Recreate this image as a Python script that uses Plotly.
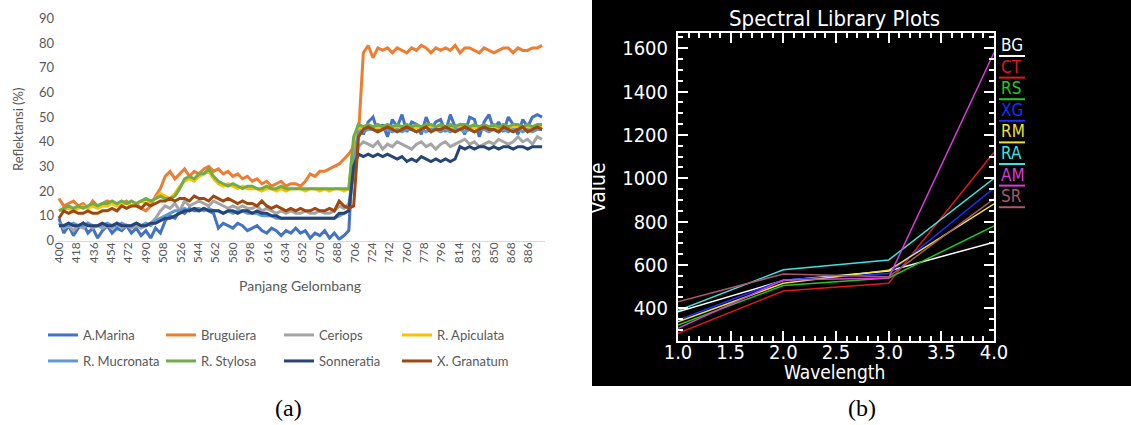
import plotly.graph_objects as go

# ---------------- Left panel data (a) ----------------
wavelength = list(range(400, 901, 5))

a_marina = [9, 3, 6, 2, 5, 7, 3, 5, 1, 4,
            6, 3, 5, 4, 6, 3, 5, 2, 4, 1,
            5, 3, 8, 10, 9, 12, 11, 13, 12, 12,
            13, 12, 11, 5, 7, 6, 5, 7, 6, 4,
            5, 6, 4, 3, 5, 4, 2, 4, 3, 5,
            3, 4, 1, 3, 2, 4, 1, 3, 0.5, 2,
            4, 40, 47, 43, 48, 50, 44, 47, 42, 49,
            46, 51, 44, 48, 47, 43, 50, 45, 48, 49,
            44, 51, 46, 47, 43, 50, 49, 42, 48, 51,
            45, 48, 44, 50, 47, 43, 49, 46, 50, 51,
            50]
bruguiera = [17, 14, 15, 16, 14, 15, 13, 16, 14, 15,
             16, 15, 14, 15, 16, 14, 15, 13, 12, 14,
             18, 21, 26, 28, 25, 27, 29, 26, 28, 27,
             29, 30, 28, 29, 27, 28, 26, 27, 25, 26,
             24, 25, 23, 24, 22, 23, 24, 22, 23, 23,
             22, 24, 27, 26, 28, 28, 29, 30, 31, 33,
             35, 38, 43, 76, 79, 74, 78, 77, 78, 76,
             78, 77, 76, 78, 77, 79, 78, 76, 78, 77,
             78, 77, 79, 76, 78, 78, 77, 76, 78, 77,
             76, 77, 78, 78, 76, 78, 77, 77, 78, 78,
             79]
ceriops = [7, 5, 6, 4, 6, 5, 7, 5, 6, 5,
           6, 5, 7, 5, 6, 5, 6, 5, 6, 7,
           9, 12, 14, 13, 15, 12, 16, 14, 15, 16,
           15, 14, 16, 15, 14, 13, 14, 13, 14, 13,
           13, 14, 12, 13, 12, 11, 12, 11, 12, 11,
           11, 12, 11, 11, 12, 11, 11, 12, 14, 13,
           15, 28, 38, 40, 39, 38, 40, 37, 39, 38,
           40, 39, 38, 37, 39, 40, 38, 39, 37, 39,
           40, 38, 39, 40, 41, 39, 40, 38, 39, 40,
           39, 41, 40, 39, 40, 42, 40, 41, 39, 42,
           41]
r_apiculata = [12, 13, 13, 12, 13, 14, 13, 14, 13, 14,
               14, 15, 14, 15, 15, 14, 15, 16, 15, 16,
               17, 19, 18, 17, 19, 22, 24, 25, 24, 26,
               27, 28, 25, 23, 22, 23, 22, 21, 22, 21,
               21, 21, 20, 21, 21, 20, 21, 20, 21, 21,
               21, 20, 21, 21, 20, 21, 20, 21, 21, 20,
               21, 40, 46, 45, 46, 45, 46, 45, 46, 45,
               46, 45, 46, 45, 46, 45, 46, 46, 45, 46,
               45, 46, 45, 46, 46, 45, 46, 45, 46, 45,
               46, 45, 46, 45, 46, 46, 45, 46, 45, 46,
               46]
r_mucronata = [7, 6, 6, 7, 6, 6, 7, 6, 6, 6,
               7, 6, 6, 7, 6, 6, 7, 6, 7, 6,
               8, 9, 10, 11, 12, 12, 13, 12, 13, 13,
               12, 13, 12, 12, 11, 12, 11, 12, 12, 11,
               11, 11, 10, 10, 10, 9, 9, 9, 9, 9,
               9, 9, 9, 9, 9, 9, 9, 9, 10, 11,
               12, 30, 44, 44, 45, 45, 44, 45, 45, 44,
               45, 44, 45, 45, 44, 45, 44, 45, 45, 44,
               45, 44, 45, 45, 44, 45, 44, 45, 45, 44,
               45, 44, 45, 44, 45, 45, 44, 45, 44, 45,
               45]
r_stylosa = [12, 13, 14, 13, 14, 13, 14, 15, 14, 15,
             15, 16, 15, 16, 15, 16, 15, 16, 17, 16,
             17, 18, 17, 17, 18, 21, 25, 26, 25, 27,
             27, 29, 26, 24, 23, 22, 23, 22, 21, 22,
             22, 21, 21, 22, 21, 21, 22, 21, 21, 21,
             21, 21, 21, 21, 21, 21, 21, 21, 21, 21,
             21, 42, 47, 46, 47, 46, 47, 46, 47, 46,
             47, 46, 47, 46, 47, 46, 47, 47, 46, 47,
             46, 47, 46, 47, 47, 46, 47, 46, 47, 46,
             47, 46, 47, 46, 47, 47, 46, 47, 46, 47,
             47]
sonneratia = [6, 6, 7, 6, 6, 7, 6, 6, 6, 7,
              6, 6, 7, 6, 6, 6, 7, 6, 6, 7,
              7, 8, 9, 9, 10, 11, 12, 12, 13, 12,
              13, 12, 12, 12, 11, 12, 12, 11, 12, 12,
              11, 12, 11, 11, 10, 10, 9, 9, 9, 9,
              9, 9, 9, 9, 9, 9, 9, 9, 11, 11,
              12, 30, 35, 34, 35, 34, 35, 34, 35, 34,
              33, 34, 32, 33, 32, 34, 33, 32, 33, 32,
              33, 32, 33, 38, 37, 38, 37, 38, 38, 37,
              38, 37, 38, 38, 37, 38, 38, 37, 38, 38,
              38]
x_granatum = [9, 12, 11, 12, 11, 11, 12, 11, 11, 12,
              12, 13, 12, 14, 13, 14, 14, 13, 15, 14,
              15, 16, 16, 17, 16, 17, 17, 16, 18, 17,
              17, 16, 18, 17, 16, 17, 16, 15, 16, 15,
              15, 14, 16, 14, 13, 14, 13, 12, 13, 12,
              13, 12, 12, 13, 12, 12, 13, 12, 16, 14,
              13, 14, 42, 45, 46, 45, 44, 45, 46, 45,
              44, 45, 46, 45, 44, 45, 46, 44, 45, 45,
              46, 45, 44, 45, 46, 45, 44, 45, 46, 45,
              45, 44, 46, 45, 44, 45, 46, 44, 45, 46,
              45]

left_names = ["A.Marina", "Bruguiera", "Ceriops", "R. Apiculata",
              "R. Mucronata", "R. Stylosa", "Sonneratia", "X. Granatum"]
left_values = [a_marina, bruguiera, ceriops, r_apiculata,
               r_mucronata, r_stylosa, sonneratia, x_granatum]
left_colors = ["#4472C4", "#ED7D31", "#A5A5A5", "#FFC000",
               "#5B9BD5", "#70AD47", "#264478", "#9E480E"]
x_ticks_a = list(range(400, 901, 18))

# ---------------- Right panel data (b) ----------------
bands = [1.0, 2.0, 3.0, 4.0]
right_names = ["BG", "CT", "RS", "XG", "RM", "RA", "AM", "SR"]
bg = [384, 528, 572, 705]
ct = [285, 480, 515, 1120]
rs = [323, 505, 540, 780]
xg = [346, 530, 560, 955]
rm = [338, 515, 575, 882]
ra = [389, 578, 623, 1000]
am = [308, 530, 540, 1580]
sr = [430, 558, 545, 905]
right_values = [bg, ct, rs, xg, rm, ra, am, sr]
right_colors = ["#FFFFFF", "#E01818", "#20C820", "#1830FF",
                "#E8E040", "#40E0E0", "#D83CD8", "#A85868"]

W, H = 1131, 425


def px(x):
    return x / W


def py(y):
    return 1 - y / H


fig = go.Figure()

for i, (name, vals, color) in enumerate(zip(left_names, left_values, left_colors)):
    fig.add_trace(go.Scatter(
        x=wavelength, y=vals, name=name, mode="lines",
        line=dict(color=color, width=3),
        xaxis="x", yaxis="y",
        legend="legend" if i < 4 else "legend2",
    ))

for name, vals, color in zip(right_names, right_values, right_colors):
    fig.add_trace(go.Scatter(
        x=bands, y=vals, name=name, mode="lines",
        line=dict(color=color, width=1.5),
        xaxis="x2", yaxis="y2", showlegend=False,
    ))

excel_font = dict(family="Lato, 'Open Sans', sans-serif", size=12, color="#595959")
envi_font = dict(family="'DejaVu Sans Condensed', 'DejaVu Sans', sans-serif", size=20, color="white")

annotations = [
    dict(text="Reflektansi (%)", x=px(18), y=py(130), textangle=-90,
         font=dict(excel_font, size=13)),
    dict(text="Panjang Gelombang", x=px(300), y=py(285),
         font=dict(excel_font, size=14)),
    dict(text="Spectral Library Plots", x=px(834), y=py(19),
         font=dict(envi_font, size=22)),
    dict(text="Wavelength", x=px(834), y=py(372),
         font=dict(envi_font, size=19)),
    dict(text="Value", x=px(598), y=py(188), textangle=-90,
         font=dict(envi_font, size=21)),
    dict(text="(a)", x=px(288), y=py(408),
         font=dict(family="'Liberation Serif', serif", size=24, color="black")),
    dict(text="(b)", x=px(862), y=py(408),
         font=dict(family="'Liberation Serif', serif", size=24, color="black")),
]
shapes = [
    dict(type="rect", xref="paper", yref="paper", x0=px(592), x1=1, y0=py(386), y1=1,
         fillcolor="black", line=dict(width=0), layer="below"),
]
for i, (name, color) in enumerate(zip(right_names, right_colors)):
    yc = 45 + 21.6 * i
    annotations.append(dict(text=name, x=px(999), y=py(yc), xanchor="left",
                            font=dict(envi_font, size=17, color=color)))
    shapes.append(dict(type="line", xref="paper", yref="paper",
                       x0=px(999), x1=px(1025), y0=py(yc + 11), y1=py(yc + 11),
                       line=dict(color=color, width=2)))

for a in annotations:
    a.update(xref="paper", yref="paper", showarrow=False)
    a.setdefault("xanchor", "center")
    a.setdefault("yanchor", "middle")

legend_common = dict(orientation="h", xanchor="left", yanchor="middle",
                     entrywidth=73, entrywidthmode="pixels",
                     bgcolor="rgba(0,0,0,0)", borderwidth=0,
                     font=dict(excel_font, size=13), itemclick=False)

fig.update_layout(
    width=W, height=H,
    margin=dict(l=0, r=0, t=0, b=0, autoexpand=False),
    paper_bgcolor="white", plot_bgcolor="rgba(0,0,0,0)",
    showlegend=True,
    legend=dict(legend_common, x=px(43), y=py(335)),
    legend2=dict(legend_common, x=px(43), y=py(361)),
    xaxis=dict(domain=[px(57), px(545)], range=[398, 903], anchor="y", automargin=False,
               tickmode="array", tickvals=x_ticks_a, tickangle=-90,
               tickfont=excel_font, showline=True, linecolor="#D9D9D9", linewidth=1,
               showgrid=False, zeroline=False, ticks="", ticklabelstandoff=-4),
    yaxis=dict(domain=[py(240.5), py(18.3)], range=[0, 90], dtick=10, anchor="x",
               automargin=False,
               tickfont=dict(excel_font, size=13), showline=False, showgrid=False,
               zeroline=False, ticks="", ticklabelstandoff=2),
    xaxis2=dict(domain=[px(678), px(994)], range=[1, 4], anchor="y2", automargin=False,
                dtick=0.5, tick0=1, tickformat=".1f",
                showline=True, linecolor="white", linewidth=2, mirror="allticks",
                ticks="inside", ticklen=10, tickwidth=2, tickcolor="white",
                minor=dict(ticks="inside", ticklen=5, dtick=0.1, tick0=1,
                           tickcolor="white", tickwidth=2, showgrid=False),
                tickfont=envi_font, showgrid=False, zeroline=False,
                ticklabelstandoff=-8),
    yaxis2=dict(domain=[py(341), py(33)], range=[249, 1670], anchor="x2", automargin=False,
                dtick=200, tick0=0,
                showline=True, linecolor="white", linewidth=2, mirror="allticks",
                ticks="inside", ticklen=10, tickwidth=2, tickcolor="white",
                minor=dict(ticks="inside", ticklen=5, dtick=50, tick0=0,
                           tickcolor="white", tickwidth=2, showgrid=False),
                tickfont=envi_font, showgrid=False, zeroline=False,
                ticklabelstandoff=4),
    annotations=annotations,
    shapes=shapes,
)

fig.write_html("out.html", config={"displayModeBar": False},
               post_script="document.body.style.margin='0';")
